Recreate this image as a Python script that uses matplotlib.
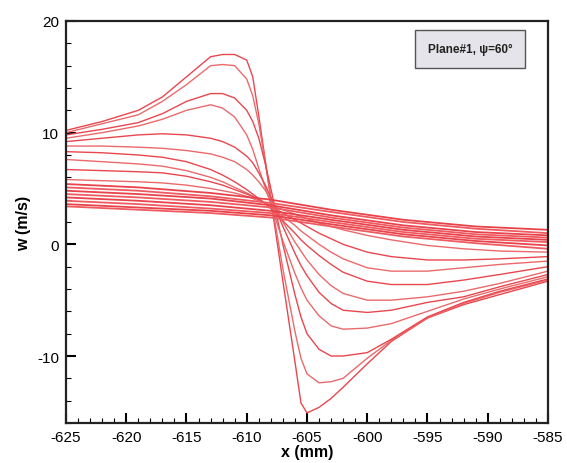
import numpy as np
import matplotlib
matplotlib.use('Agg')
import matplotlib.pyplot as plt
from matplotlib.ticker import MultipleLocator

plt.rcParams['font.family'] = ['Liberation Sans', 'DejaVu Sans']
plt.rcParams['axes.unicode_minus'] = False

# x positions (mm) where the profiles were read
x_fine = [-625, -622, -619, -617, -615, -613, -612, -611, -610, -609.5, -609, -608.5,
          -608, -607, -606, -605.5, -605, -604, -603, -602, -600, -598, -595, -592,
          -589, -585]
x_coarse = [-625, -619, -613, -608, -603, -597, -591, -585]

# profiles strongly affected by the vortex (w in m/s on x_fine)
w_p1 = [10.2, 11.0, 12.0, 13.2, 15.0, 16.8, 17.0, 17.0, 16.5, 15.0, 11.5, 7.8,
        4.0, -3.3, -10.5, -14.2, -15.1, -14.6, -13.8, -12.8, -10.7, -8.7, -6.6, -5.4,
        -4.5, -3.3]
w_p2 = [10.0, 10.8, 11.6, 12.8, 14.3, 16.0, 16.1, 16.0, 14.8, 13.3, 10.8, 7.6,
        4.2, -2.2, -7.8, -10.2, -11.6, -12.4, -12.3, -12.0, -10.2, -8.6, -6.6, -5.3,
        -4.3, -3.2]
w_p3 = [9.8, 10.3, 10.9, 11.7, 12.8, 13.5, 13.5, 13.1, 12.0, 11.0, 9.5, 7.4,
        5.0, 0.0, -4.5, -6.5, -8.0, -9.4, -10.0, -10.0, -9.7, -8.5, -6.5, -5.2,
        -4.2, -3.1]
w_p4 = [9.5, 10.0, 10.6, 11.2, 12.0, 12.5, 12.2, 11.4, 9.8, 8.5, 6.8, 5.2,
        3.6, 0.3, -2.6, -3.9, -5.0, -6.4, -7.3, -7.6, -7.5, -7.1, -6.0, -4.9,
        -4.0, -2.9]
w_p5 = [9.2, 9.5, 9.8, 9.9, 9.8, 9.5, 9.2, 8.7, 7.9, 7.3, 6.4, 5.4,
        4.2, 1.6, -0.8, -1.9, -2.8, -4.3, -5.3, -5.9, -6.1, -5.9, -5.2, -4.7,
        -3.8, -2.7]
w_p6 = [8.8, 8.8, 8.7, 8.6, 8.4, 8.1, 7.8, 7.4, 6.7, 6.2, 5.6, 4.9,
        4.0, 2.0, 0.2, -0.6, -1.4, -2.7, -3.7, -4.4, -5.0, -5.0, -4.7, -4.2,
        -3.5, -2.4]
w_p7 = [8.3, 8.2, 8.0, 7.8, 7.4, 6.7, 6.2, 5.6, 4.9, 4.5, 4.1, 3.7,
        3.2, 2.1, 1.0, 0.4, -0.1, -1.0, -1.8, -2.5, -3.3, -3.6, -3.6, -3.2,
        -2.7, -2.0]
w_p8 = [7.6, 7.4, 7.2, 7.0, 6.6, 6.0, 5.6, 5.1, 4.6, 4.3, 4.0, 3.7,
        3.3, 2.5, 1.7, 1.2, 0.8, 0.0, -0.7, -1.3, -2.1, -2.4, -2.4, -2.1,
        -1.8, -1.5]
w_p9 = [6.7, 6.6, 6.5, 6.4, 6.1, 5.6, 5.3, 4.9, 4.5, 4.3, 4.0, 3.7,
        3.4, 2.8, 2.2, 1.9, 1.6, 1.0, 0.5, 0.0, -0.7, -1.1, -1.4, -1.4,
        -1.3, -1.1]
w_p10 = [5.8, 5.7, 5.6, 5.5, 5.3, 5.0, 4.8, 4.6, 4.3, 4.1, 3.9, 3.7,
         3.5, 3.1, 2.7, 2.5, 2.3, 1.9, 1.6, 1.3, 0.8, 0.4, -0.1, -0.4,
         -0.6, -0.7]

# far-field profiles (w in m/s on x_coarse)
w_b1 = [5.4, 5.1, 4.6, 4.0, 3.1, 2.2, 1.6, 1.3]
w_b2 = [5.1, 4.8, 4.3, 3.7, 2.9, 2.0, 1.4, 1.0]
w_b3 = [4.8, 4.5, 4.1, 3.5, 2.6, 1.7, 1.1, 0.8]
w_b4 = [4.5, 4.2, 3.8, 3.3, 2.4, 1.5, 0.9, 0.6]
w_b5 = [4.2, 3.9, 3.5, 3.0, 2.2, 1.3, 0.7, 0.4]
w_b6 = [3.9, 3.6, 3.2, 2.8, 2.0, 1.1, 0.5, 0.2]
w_b7 = [3.6, 3.3, 3.0, 2.6, 1.8, 0.9, 0.3, -0.1]
w_b8 = [3.4, 3.1, 2.8, 2.4, 1.6, 0.7, 0.1, -0.4]

near = [w_p1, w_p2, w_p3, w_p4, w_p5, w_p6, w_p7, w_p8, w_p9, w_p10]
far = [w_b1, w_b2, w_b3, w_b4, w_b5, w_b6, w_b7, w_b8]

fig = plt.figure(figsize=(5.67, 4.64), dpi=100)
ax = fig.add_axes([0.1164, 0.0862, 0.850, 0.8664])

for i, w in enumerate(near):
    c = '#e9474f' if i % 2 == 0 else '#ea6a6c'
    ax.plot(x_fine, w, color=c, lw=1.0)
for i, w in enumerate(far):
    c = '#e8424b' if i % 2 == 0 else '#ee5a60'
    ax.plot(x_coarse, w, color=c, lw=1.3)

ax.set_xlim(-625, -585)
ax.set_ylim(-16, 20)
ax.xaxis.set_major_locator(MultipleLocator(5))
ax.xaxis.set_minor_locator(MultipleLocator(1))
ax.yaxis.set_major_locator(MultipleLocator(10))
ax.yaxis.set_minor_locator(MultipleLocator(2))
ax.tick_params(which='major', direction='in', length=7, width=1.5, labelsize=11, pad=5)
ax.tick_params(which='minor', direction='in', length=3.5, width=0.8)
for s in ax.spines.values():
    s.set_linewidth(1.6)
    s.set_color('#222222')

ax.set_xlabel('x (mm)', fontsize=11.5, fontweight='bold', labelpad=0)
ax.set_ylabel('w (m/s)', fontsize=11.5, fontweight='bold', labelpad=4)

ax.text(0.838, 0.93, 'Plane#1, \u03c8=60\u00b0', transform=ax.transAxes,
        ha='center', va='center', fontsize=8.5, fontweight='bold', color='#222222',
        bbox=dict(boxstyle='square,pad=1.1', fc='#e4e4ea', ec='#555555', lw=1.0))

fig.savefig('out.png', dpi=100)
